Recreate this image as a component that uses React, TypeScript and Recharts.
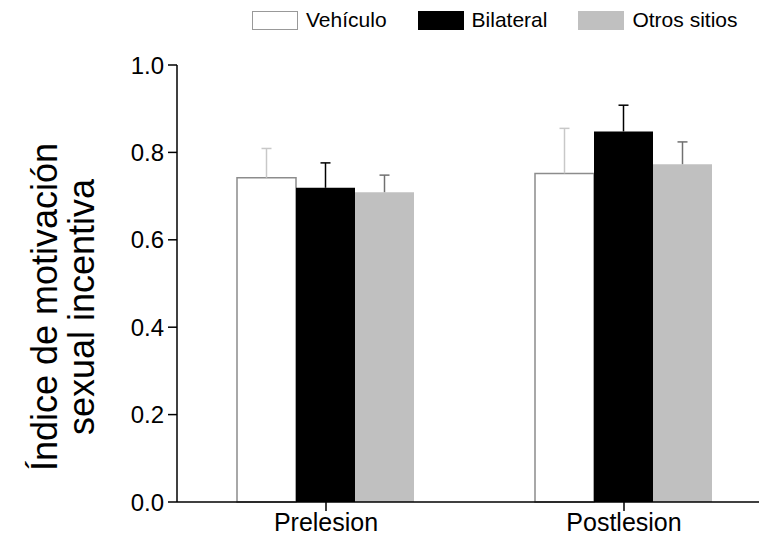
import React from "react";
import { Bar, BarChart, Rectangle, XAxis, YAxis } from "recharts";

const categories = ["Prelesion", "Postlesion"];
const vehiculo = [0.742, 0.752];
const vehiculoErr = [0.067, 0.103];
const bilateral = [0.719, 0.848];
const bilateralErr = [0.057, 0.06];
const otros = [0.709, 0.773];
const otrosErr = [0.039, 0.051];
const yTicks = [0, 0.2, 0.4, 0.6, 0.8, 1.0];

const data = categories.map((name, i) => ({
  name,
  vehiculo: vehiculo[i],
  vehiculoErr: vehiculoErr[i],
  bilateral: bilateral[i],
  bilateralErr: bilateralErr[i],
  otros: otros[i],
  otrosErr: otrosErr[i],
}));

const legendItems = [
  { label: "Vehículo", fill: "#ffffff", stroke: "#999999" },
  { label: "Bilateral", fill: "#000000", stroke: "#000000" },
  { label: "Otros sitios", fill: "#c0c0c0", stroke: "#c0c0c0" },
];

const font = "'Liberation Sans', Arial, sans-serif";

// bar + one-sided (upper) error whisker, length scaled from the bar's own height
const barWithError = (errKey: string, valKey: string, whisker: string) => (props: any) => {
  const { x, y, width, height, payload } = props;
  const val = payload[valKey];
  const err = payload[errKey];
  const len = val ? (err * height) / val : 0;
  const cx = x + width / 2;
  return (
    <g>
      <Rectangle {...props} />
      <line x1={cx} y1={y} x2={cx} y2={y - len} stroke={whisker} strokeWidth={1.5} />
      <line x1={cx - 5} y1={y - len} x2={cx + 5} y2={y - len} stroke={whisker} strokeWidth={1.5} />
    </g>
  );
};

const YLabel = () => {
  const cy = 307;
  return (
    <text
      transform={`translate(0, ${cy}) rotate(-90)`}
      textAnchor="middle"
      fontSize={36}
      fill="#000"
      fontFamily={font}
    >
      <tspan x={0} y={57}>Índice de motivación</tspan>
      <tspan x={0} y={94}>sexual incentiva</tspan>
    </text>
  );
};

const ChartLegend = () => (
  <div
    style={{
      position: "absolute",
      left: 252,
      top: 8,
      display: "flex",
      alignItems: "center",
      fontSize: 21,
      fontFamily: font,
      color: "#000",
      whiteSpace: "nowrap",
    }}
  >
    {legendItems.map((it) => (
      <div key={it.label} style={{ display: "flex", alignItems: "center", marginRight: 31 }}>
        <span
          style={{
            display: "inline-block",
            width: 44,
            height: 17,
            background: it.fill,
            border: `1px solid ${it.stroke}`,
            marginRight: 8,
          }}
        />
        <span>{it.label}</span>
      </div>
    ))}
  </div>
);

export default function App() {
  return (
    <div
      style={{
        position: "absolute",
        left: 0,
        top: 0,
        width: 759,
        height: 543,
        background: "#fff",
        fontFamily: font,
        overflow: "hidden",
      }}
    >
      <ChartLegend />
      <BarChart
        width={759}
        height={543}
        data={data}
        margin={{ top: 65, right: -14, bottom: 0, left: 0 }}
        barCategoryGap={60}
        barGap={0}
      >
        <XAxis
          dataKey="name"
          height={41}
          tickSize={9}
          tickMargin={2}
          axisLine={{ stroke: "#000", strokeWidth: 1.5 }}
          tickLine={{ stroke: "#000", strokeWidth: 1.5 }}
          tick={{ fill: "#000", fontSize: 25 }}
        />
        <YAxis
          width={177}
          domain={[0, 1]}
          ticks={yTicks}
          interval={0}
          tickFormatter={(v: number) => v.toFixed(1)}
          tickSize={9}
          tickMargin={4}
          axisLine={{ stroke: "#000", strokeWidth: 1.5 }}
          tickLine={{ stroke: "#000", strokeWidth: 1.5 }}
          tick={{ fill: "#000", fontSize: 24 }}
          label={<YLabel />}
        />
        <Bar
          dataKey="vehiculo"
          fill="#ffffff"
          stroke="#8c8c8c"
          strokeWidth={1.5}
          isAnimationActive={false}
          shape={barWithError("vehiculoErr", "vehiculo", "#c8c8c8")}
        />
        <Bar
          dataKey="bilateral"
          fill="#000000"
          isAnimationActive={false}
          shape={barWithError("bilateralErr", "bilateral", "#000000")}
        />
        <Bar
          dataKey="otros"
          fill="#c0c0c0"
          isAnimationActive={false}
          shape={barWithError("otrosErr", "otros", "#707070")}
        />
      </BarChart>
    </div>
  );
}
